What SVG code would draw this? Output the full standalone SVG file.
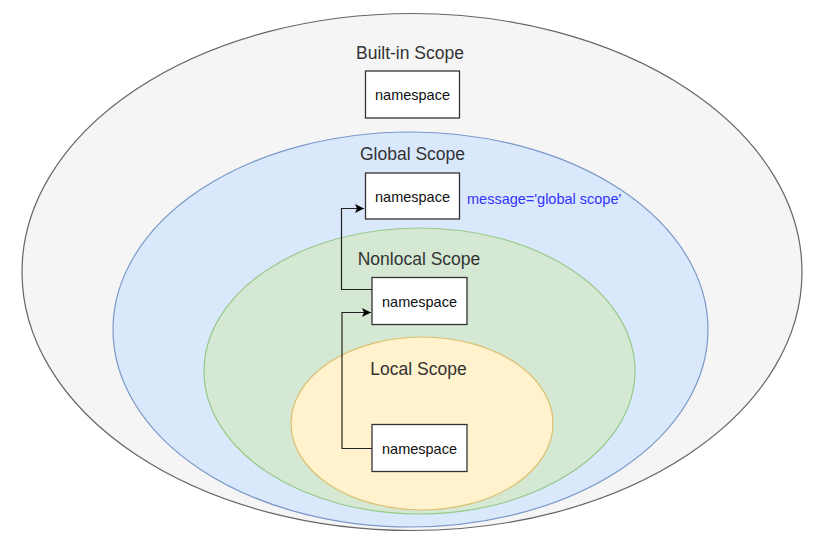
<svg xmlns="http://www.w3.org/2000/svg" width="821" height="548" viewBox="0 0 821 548">
<style>
.lbl{font-family:"Liberation Sans",Arial,sans-serif;font-size:17.5px;fill:#333333;text-anchor:middle}
.ns{font-family:"Liberation Sans",Arial,sans-serif;font-size:14.5px;fill:#111111;text-anchor:middle}
.box{fill:#ffffff;stroke:#333333;stroke-width:1.3}
.con{fill:none;stroke:#222222;stroke-width:1.2}
</style>
<defs>
<marker id="arr" markerWidth="12" markerHeight="12" refX="10" refY="6" orient="auto" markerUnits="userSpaceOnUse">
<path d="M1,1.5 L10,6 L1,10.5 L3,6 Z" fill="#000000"/>
</marker>
</defs>
<rect width="821" height="548" fill="#ffffff"/>
<g id="builtin-scope">
<ellipse cx="412" cy="272" rx="390" ry="258.5" fill="#f5f5f5" stroke="#666666" stroke-width="1.2"/>
<text class="lbl" x="410" y="59">Built-in Scope</text>
</g>
<g id="global-scope">
<ellipse cx="410.5" cy="329.5" rx="297.5" ry="197.5" fill="#dae8fc" stroke="#7a98c8" stroke-width="1.2"/>
<text class="lbl" x="412.5" y="160">Global Scope</text>
</g>
<g id="nonlocal-scope">
<ellipse cx="419.5" cy="371" rx="215.5" ry="143" fill="#d5e8d4" stroke="#97c98a" stroke-width="1.2"/>
<text class="lbl" x="419" y="265">Nonlocal Scope</text>
</g>
<g id="local-scope">
<ellipse cx="422" cy="423.5" rx="131" ry="86.5" fill="#fff2cc" stroke="#dcc070" stroke-width="1.2"/>
<text class="lbl" x="418.5" y="375">Local Scope</text>
</g>
<g id="builtin-ns">
<rect class="box" x="365.5" y="71" width="94" height="47"/>
<text class="ns" x="412.5" y="100">namespace</text>
</g>
<g id="global-ns">
<rect class="box" x="365.5" y="173" width="94" height="46"/>
<text class="ns" x="412.5" y="201.5">namespace</text>
</g>
<g id="global-msg">
<text x="467" y="204" font-family="Liberation Sans, Arial, sans-serif" font-size="14.5" fill="#3333ff">message='global scope'</text>
</g>
<g id="nonlocal-ns">
<rect class="box" x="372" y="277.5" width="95" height="47"/>
<text class="ns" x="419.5" y="306.5">namespace</text>
</g>
<g id="local-ns">
<rect class="box" x="372" y="424.5" width="95" height="47"/>
<text class="ns" x="419.5" y="454">namespace</text>
</g>
<g id="connectors">
<path class="con" d="M372,289.5 H341.5 V208.5 H364" marker-end="url(#arr)"/>
<path class="con" d="M372,448.5 H342 V312.5 H371" marker-end="url(#arr)"/>
</g>
</svg>
